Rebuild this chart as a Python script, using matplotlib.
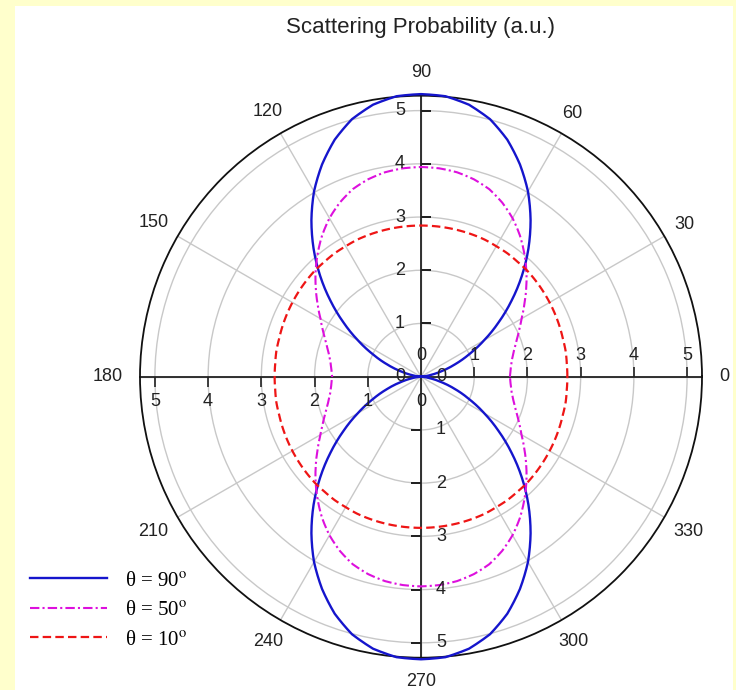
import numpy as np
import matplotlib
matplotlib.use("Agg")
import matplotlib.pyplot as plt
from matplotlib.patches import Rectangle
from matplotlib.transforms import offset_copy

plt.rcParams['font.family'] = ['Liberation Sans', 'DejaVu Sans']
plt.rcParams['mathtext.fontset'] = 'stix'

# values read for one quadrant (0..90 deg, step 5), curves are symmetric
ang_q = np.arange(0, 95, 5)
r90 = [0.0, 0.05, 0.18, 0.40, 0.68, 1.00, 1.37, 1.78, 2.22, 2.68,
       3.14, 3.59, 4.02, 4.40, 4.74, 5.01, 5.19, 5.29, 5.31]
r50 = [1.67, 1.69, 1.73, 1.80, 1.90, 2.03, 2.18, 2.37, 2.58, 2.80,
       3.02, 3.24, 3.44, 3.61, 3.75, 3.84, 3.90, 3.93, 3.94]
r10 = [2.75, 2.75, 2.76, 2.76, 2.77, 2.78, 2.79, 2.80, 2.81, 2.82,
       2.82, 2.83, 2.83, 2.84, 2.84, 2.84, 2.84, 2.84, 2.84]
labels = [r'θ = 90$^{\mathrm{o}}$', r'θ = 50$^{\mathrm{o}}$', r'θ = 10$^{\mathrm{o}}$']
theta_ticks = np.arange(0, 360, 30)
r_ticks = [1, 2, 3, 4, 5]
r_max = 5.28


def full_circle(q):
    return q + q[-2::-1] + q[1:] + q[-2::-1]


ang = np.deg2rad(np.arange(0, 365, 5))

fig = plt.figure(figsize=(7.36, 6.9), dpi=100, facecolor='#FFFFCC')
fig.patches.append(Rectangle((15/736, 0), 718/736, 684/690, transform=fig.transFigure,
                             facecolor='white', edgecolor='none', zorder=-5))

ax = fig.add_axes([140/736, 32.3/690, 562/736, 562/690], projection='polar')
ax.set_facecolor('white')
ax.set_ylim(0, r_max)
ax.set_thetagrids(theta_ticks, labels=['']*len(theta_ticks))
ax.set_rgrids(r_ticks, labels=['']*5)
ax.grid(True, color='#c8c8c8', lw=1)
ax.spines['polar'].set_color('#111111')
ax.spines['polar'].set_linewidth(1.3)
ax.tick_params(axis='x', direction='inout', length=10, width=1.2, color='#111111')

txt = '#222222'
# angle labels outside the circle
for t in theta_ticks:
    a = np.deg2rad(t)
    s = str(t)
    w, h = 10 * len(s), 13
    gap = 17 - 6 * abs(np.sin(2 * a))
    d = gap + abs(np.cos(a)) * w / 2 + abs(np.sin(a)) * h / 2
    tr = offset_copy(ax.transData, fig=fig, x=d*np.cos(a), y=d*np.sin(a), units='dots')
    ax.text(a, r_max, s, transform=tr, ha='center', va='center', fontsize=13,
            color=txt, clip_on=False)

for th in [0, np.pi/2, np.pi, 3*np.pi/2]:
    ax.plot([th, th], [0, r_max], color='#222222', lw=1.3, zorder=2, clip_on=False)

# tick marks and labels on the cross axes
rt = np.array([0] + r_ticks)
ax.plot(np.zeros(5), r_ticks, ls='none', marker=2, ms=7, mew=1.2, color='#222222', zorder=2)
ax.plot(np.full(5, np.pi), r_ticks, ls='none', marker=3, ms=7, mew=1.2, color='#222222', zorder=2)
ax.plot(np.full(5, np.pi/2), r_ticks, ls='none', marker=1, ms=7, mew=1.2, color='#222222', zorder=2)
ax.plot(np.full(5, 3*np.pi/2), r_ticks, ls='none', marker=0, ms=7, mew=1.2, color='#222222', zorder=2)
for th, dx, dy in [(0, 0, 21), (np.pi, 0, -25), (np.pi/2, -21, 0), (3*np.pi/2, 20, 0)]:
    tr = offset_copy(ax.transData, fig=fig, x=dx, y=dy, units='dots')
    for r in rt:
        ax.text(th, r, str(r), transform=tr, ha='center', va='center',
                fontsize=13, color=txt, zorder=4)

l1, = ax.plot(ang, full_circle(r90), color='#1515cc', lw=1.7, zorder=3, clip_on=False)
l2, = ax.plot(ang, full_circle(r50), color='#dd10dd', lw=1.5, zorder=3,
              ls=(0, (4.5, 1.5, 1, 1.5)))
l3, = ax.plot(ang, full_circle(r10), color='#ee1515', lw=1.6, zorder=3,
              ls=(0, (3.8, 1.9)))
# let the polar transform draw smooth arcs between the read points
for ln in (l1, l2, l3):
    ln.get_path()._interpolation_steps = 12

fig.text(421/736, 1 - 28/690, 'Scattering Probability (a.u.)', ha='center', va='center',
         fontsize=16, color='#222222')

fig.legend([l1, l2, l3], labels, loc='upper left', bbox_to_anchor=(30/736, 1 - 571/690),
           frameon=False, handlelength=3.7, handletextpad=0.85, labelspacing=0.48,
           borderpad=0, borderaxespad=0,
           prop={'family': ['Liberation Serif', 'DejaVu Serif'], 'size': 15})

fig.savefig('out.png', dpi=100, facecolor=fig.get_facecolor())
